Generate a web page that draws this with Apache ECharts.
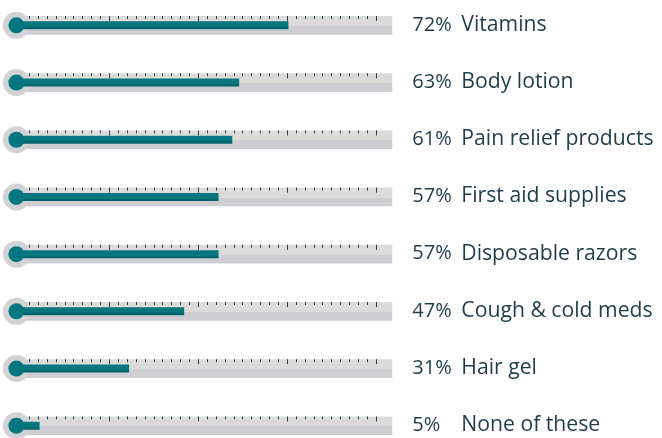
<!DOCTYPE html>
<html><head><meta charset="utf-8">
<script src="https://cdn.jsdelivr.net/npm/echarts@6/dist/echarts.min.js"></script>
<style>html,body{margin:0;padding:0;background:#fff}#c{width:662px;height:438px}</style>
</head><body><div id="c"></div>
<script>
// ---- data ----
const categories = ['Vitamins', 'Body lotion', 'Pain relief products', 'First aid supplies', 'Disposable razors', 'Cough & cold meds', 'Hair gel', 'None of these'];
const percentValues = [72, 63, 61, 57, 57, 47, 31, 5];          // printed percentages
const barLengths = [77.3, 63, 61, 57, 57, 47, 31, 5];           // bar lengths as drawn in the picture
const trackMax = 107.5;     // right end of the grey track, in bar units
const axisMin = -1.75;      // left end (knob centre)
const tickMax = 40;         // decorative ruler ticks

// ---- layout ----
const W = 662;
const rowStart = 25.35, rowStep = 57.2;
const trackH = 18.7;
const gridLeft = 16.4, trackRight = 392.3;
const tickLeft = 20.4, tickRight = 376;

const grids = [], xAxes = [], yAxes = [], series = [];
const trackColor = new echarts.graphic.LinearGradient(0, 0, 0, 1, [
  {offset: 0, color: '#dcdbda'}, {offset: 0.53, color: '#dcdbda'},
  {offset: 0.53, color: '#cecdd2'}, {offset: 1, color: '#cecdd2'}
]);
const fillColor = new echarts.graphic.LinearGradient(0, 0, 0, 1, [
  {offset: 0, color: '#08767f'}, {offset: 0.7, color: '#08767f'},
  {offset: 0.7, color: '#00656d'}, {offset: 1, color: '#00656d'}
]);

categories.forEach((cat, i) => {
  const c = rowStart + rowStep * i;
  const g = grids.length;
  grids.push({left: gridLeft, right: W - trackRight, top: c - trackH / 2, height: trackH});
  grids.push({left: tickLeft, right: W - tickRight, top: c - trackH / 2, height: 6});
  const xMain = xAxes.length;
  xAxes.push({gridIndex: g, type: 'value', min: axisMin, max: trackMax, show: false});
  xAxes.push({
    gridIndex: g + 1, type: 'value', min: 0, max: tickMax, interval: 10, position: 'top', z: 1.2,
    axisLine: {show: false, onZero: false}, axisLabel: {show: false}, splitLine: {show: false},
    axisTick: {show: true, inside: true, length: 5, lineStyle: {color: '#1f4250', width: 1}},
    minorTick: {show: true, splitNumber: 10, length: 3, lineStyle: {color: '#1f4250', width: 1}},
    minorSplitLine: {show: false}
  });
  const yLab = yAxes.length;
  yAxes.push({
    gridIndex: g, type: 'category', data: [cat], position: 'right',
    axisLine: {show: false}, axisTick: {show: false}, splitLine: {show: false},
    axisLabel: {
      margin: 20, align: 'left', verticalAlign: 'middle', padding: [0, 0, 1, 0],
      formatter: () => `{p|${percentValues[i]}%}{n|${cat}}`,
      rich: {
        p: {width: 49, fontFamily: 'Open Sans', fontSize: 20, color: '#1e3c49'},
        n: {fontFamily: 'Open Sans', fontSize: 21.2, color: '#1e3c49'}
      }
    }
  });
  const yFill = yAxes.length;
  yAxes.push({gridIndex: g, type: 'category', data: [cat], position: 'left', show: false});
  yAxes.push({gridIndex: g + 1, type: 'value', min: 0, max: 1, show: false});
  series.push({
    type: 'bar', xAxisIndex: xMain, yAxisIndex: yLab, data: [trackMax], barWidth: trackH,
    itemStyle: {color: trackColor}, silent: true, z: 1
  });
  series.push({
    type: 'scatter', xAxisIndex: xMain, yAxisIndex: yLab, data: [[axisMin, 0]], symbolSize: 27,
    itemStyle: {color: '#d3d2d4', opacity: 1}, silent: true, z: 1.5
  });
  series.push({
    type: 'bar', xAxisIndex: xMain, yAxisIndex: yFill, data: [barLengths[i]], barWidth: 8,
    itemStyle: {color: fillColor}, silent: true, z: 2
  });
  series.push({
    type: 'scatter', xAxisIndex: xMain, yAxisIndex: yLab, data: [[axisMin, 0]], symbolSize: 16,
    itemStyle: {color: '#04767f', opacity: 1}, silent: true, z: 6
  });
});

const chart = echarts.init(document.getElementById('c'), null, {renderer: 'canvas'});
chart.setOption({animation: false, grid: grids, xAxis: xAxes, yAxis: yAxes, series: series});
</script>
</body></html>
